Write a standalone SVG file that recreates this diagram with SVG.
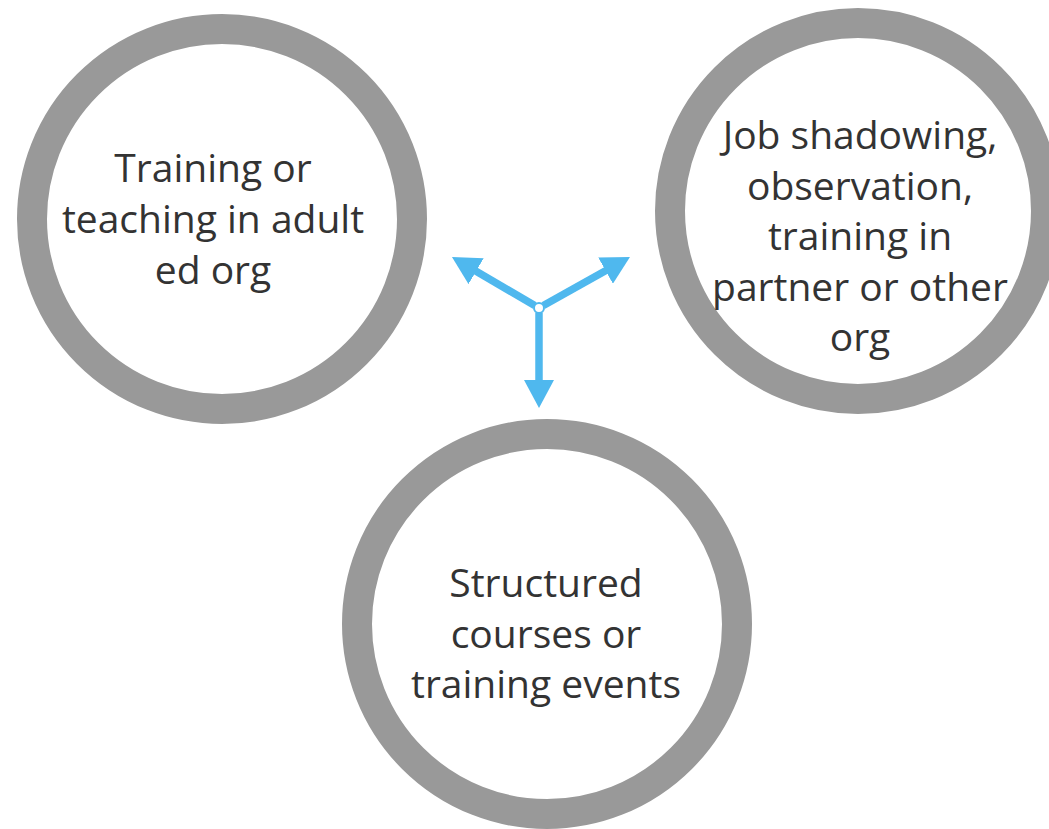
<svg xmlns="http://www.w3.org/2000/svg" width="1049" height="829" viewBox="0 0 1049 829">
  <style>
    .ring { fill: #ffffff; stroke: #999999; stroke-width: 30; }
    .label { font-family: "Open Sans", "Noto Sans", "DejaVu Sans", sans-serif; font-size: 39px; fill: #333333; text-anchor: middle; }
    .arm { stroke: #4FB8EE; stroke-width: 7.5; fill: none; marker-end: url(#head); }
  </style>
  <defs>
    <marker id="head" viewBox="0 0 28 30" refX="2" refY="15" markerWidth="28" markerHeight="30" markerUnits="userSpaceOnUse" orient="auto">
      <path d="M0,0 L28,15 L0,30 z" fill="#4FB8EE"/>
    </marker>
  </defs>
  <rect width="1049" height="829" fill="#ffffff"/>

  <g id="node-adult-ed">
    <circle class="ring" cx="222" cy="219" r="190"/>
    <text class="label" x="213" y="182">Training or</text>
    <text class="label" x="213" y="233">teaching in adult</text>
    <text class="label" x="213" y="284">ed org</text>
  </g>

  <g id="node-job-shadowing">
    <circle class="ring" cx="858" cy="211" r="188"/>
    <text class="label" x="860" y="149">Job shadowing,</text>
    <text class="label" x="860" y="200">observation,</text>
    <text class="label" x="860" y="250">training in</text>
    <text class="label" x="860" y="301">partner or other</text>
    <text class="label" x="860" y="351">org</text>
  </g>

  <g id="node-structured-courses">
    <circle class="ring" cx="547" cy="624" r="190"/>
    <text class="label" x="546" y="597">Structured</text>
    <text class="label" x="546" y="648">courses or</text>
    <text class="label" x="546" y="698">training events</text>
  </g>

  <g id="connectors">
    <line class="arm" x1="534.7" y1="305.5" x2="474.4" y2="270.2"/>
    <line class="arm" x1="543.4" y1="305.6" x2="607.3" y2="269.7"/>
    <line class="arm" x1="539" y1="313" x2="539" y2="382"/>
    <circle cx="539" cy="308" r="5" fill="#ffffff" stroke="#4FB8EE" stroke-width="2"/>
  </g>
</svg>
